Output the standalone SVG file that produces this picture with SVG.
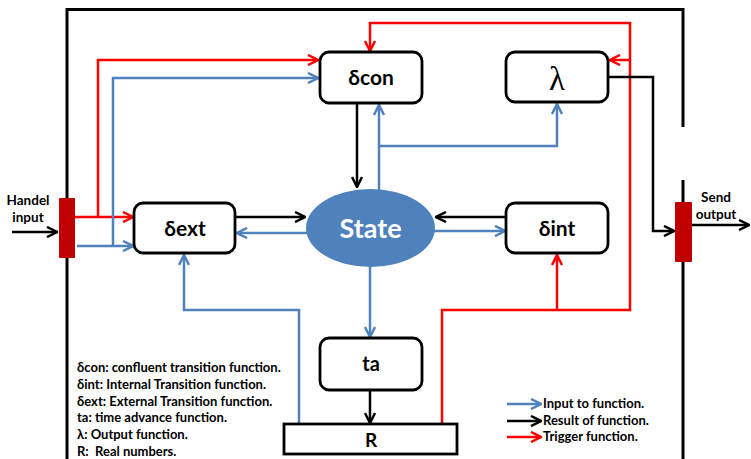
<svg xmlns="http://www.w3.org/2000/svg" width="751" height="459" viewBox="0 0 751 459">
<style>
.frame{fill:none;stroke:#000;stroke-width:3}
.box{fill:#fff;stroke:#000;stroke-width:2.8}
.b{fill:none;stroke:#4F81BD;stroke-width:2.5}
.k{fill:none;stroke:#000;stroke-width:2.5}
.r{fill:none;stroke:#FF0000;stroke-width:2.5}
.lbl{font-family:Lato,"Open Sans","DejaVu Sans",sans-serif;font-weight:bold;fill:#000;text-anchor:middle}
.leg{font-family:Lato,"Open Sans","DejaVu Sans",sans-serif;font-weight:bold;font-size:13px;fill:#000;white-space:pre}
.port{font-family:Lato,"Open Sans","DejaVu Sans",sans-serif;font-weight:bold;font-size:13.5px;fill:#000;text-anchor:middle}
.bar{fill:#C00000}
</style>
<defs>
<marker id="ab" viewBox="0 0 12 12" refX="11" refY="6" markerWidth="12" markerHeight="12" orient="auto" markerUnits="userSpaceOnUse"><path d="M1,1 L11,6 L1,11" fill="none" stroke="#4F81BD" stroke-width="2.5"/></marker>
<marker id="ak" viewBox="0 0 12 12" refX="11" refY="6" markerWidth="12" markerHeight="12" orient="auto" markerUnits="userSpaceOnUse"><path d="M1,1 L11,6 L1,11" fill="none" stroke="#000" stroke-width="2.5"/></marker>
<marker id="ar" viewBox="0 0 12 12" refX="11" refY="6" markerWidth="12" markerHeight="12" orient="auto" markerUnits="userSpaceOnUse"><path d="M1,1 L11,6 L1,11" fill="none" stroke="#FF0000" stroke-width="2.5"/></marker>
</defs>
<rect width="751" height="459" fill="#fff"/>
<g id="frame">
<path class="frame" d="M67,198 V9.5 H683 V127"/>
<path class="frame" d="M67,258 V459"/>
<path class="frame" d="M683,180 V459"/>
</g>
<g id="connectors">
<path class="k" d="M12,232 H57" marker-end="url(#ak)"/>
<path class="r" d="M75,217 H133" marker-end="url(#ar)"/>
<path class="r" d="M98,217 V60 H318" marker-end="url(#ar)"/>
<path class="b" d="M77,246 H133" marker-end="url(#ab)"/>
<path class="b" d="M113,246 V78 H318" marker-end="url(#ab)"/>
<path class="k" d="M357,104 V187" marker-end="url(#ak)"/>
<path class="b" d="M379,190 V105" marker-end="url(#ab)"/>
<path class="b" d="M379,146 H557 V104" marker-end="url(#ab)"/>
<path class="k" d="M236,217 H305" marker-end="url(#ak)"/>
<path class="b" d="M308,233 H237" marker-end="url(#ab)"/>
<path class="k" d="M506,217 H436" marker-end="url(#ak)"/>
<path class="b" d="M434,231 H505" marker-end="url(#ab)"/>
<path class="b" d="M370,267 V337" marker-end="url(#ab)"/>
<path class="k" d="M370,391 V423" marker-end="url(#ak)"/>
<path class="b" d="M299,424 V310 H184 V255" marker-end="url(#ab)"/>
<path class="r" d="M442,424 V310 H630 V23 H370 V51" marker-end="url(#ar)"/>
<path class="r" d="M557,310 V255" marker-end="url(#ar)"/>
<path class="r" d="M630,60 H610" marker-end="url(#ar)"/>
<path class="k" d="M608,77 H653 V231 H674" marker-end="url(#ak)"/>
<path class="k" d="M692,225 H749" marker-end="url(#ak)"/>
</g>
<g id="input-port">
<rect class="bar" x="59" y="198" width="16" height="60" rx="1"/>
<text class="port" x="28" y="205">Handel</text>
<text class="port" x="28" y="222">input</text>
</g>
<g id="output-port">
<rect class="bar" x="675" y="202" width="17" height="60" rx="1"/>
<text class="port" x="716" y="202">Send</text>
<text class="port" x="716" y="219">output</text>
</g>
<g id="dcon">
<rect class="box" x="320" y="52" width="102" height="51" rx="9"/>
<text class="lbl" x="371" y="85" font-size="21">δcon</text>
</g>
<g id="lambda">
<rect class="box" x="506" y="52" width="102" height="50" rx="9"/>
<text x="557" y="90" font-family="'Liberation Serif','DejaVu Serif',serif" font-size="33" text-anchor="middle">λ</text>
</g>
<g id="dext">
<rect class="box" x="134" y="203" width="101" height="50" rx="9"/>
<text class="lbl" x="185" y="236" font-size="21">δext</text>
</g>
<g id="dint">
<rect class="box" x="506" y="203" width="102" height="50" rx="9"/>
<text class="lbl" x="557" y="236" font-size="21">δint</text>
</g>
<g id="state">
<ellipse cx="370.5" cy="228" rx="64.5" ry="39" fill="#4F81BD"/>
<text class="lbl" x="370.5" y="238" font-size="27" style="fill:#fff">State</text>
</g>
<g id="ta">
<rect class="box" x="320" y="338" width="102" height="52" rx="9"/>
<text class="lbl" x="371" y="371" font-size="20">ta</text>
</g>
<g id="R">
<rect class="box" x="284" y="424" width="173" height="30" rx="0"/>
<text class="lbl" x="371" y="447" font-size="19">R</text>
</g>
<g id="legend">
<text class="leg" x="77" y="372">δcon: confluent transition function.</text>
<text class="leg" x="77" y="389">δint: Internal Transition function.</text>
<text class="leg" x="77" y="406">δext: External Transition function.</text>
<text class="leg" x="77" y="422">ta: time advance function.</text>
<text class="leg" x="77" y="439">λ: Output function.</text>
<text class="leg" x="77" y="456">R:  Real numbers.</text>
<path class="b" d="M507,404 H541" marker-end="url(#ab)"/>
<path class="k" d="M507,421 H541" marker-end="url(#ak)"/>
<path class="r" d="M507,437 H541" marker-end="url(#ar)"/>
<text class="leg" x="543" y="408">Input to function.</text>
<text class="leg" x="543" y="425">Result of function.</text>
<text class="leg" x="543" y="441">Trigger function.</text>
</g>
</svg>
